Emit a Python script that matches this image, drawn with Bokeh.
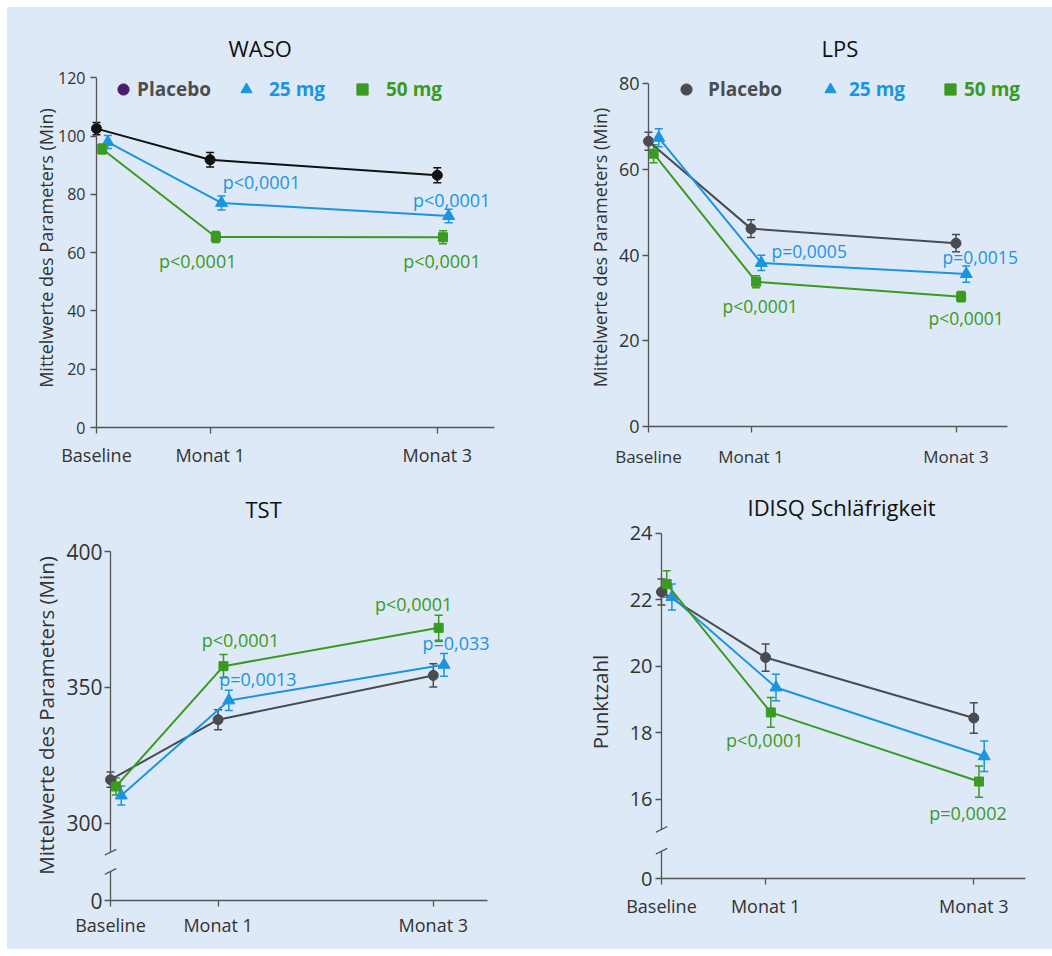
from bokeh.plotting import figure
from bokeh.layouts import row, column
from bokeh.models import (ColumnDataSource, Whisker, TeeHead, FixedTicker, Range1d,
                          Legend, LegendItem)
from bokeh.transform import dodge
from bokeh.core.properties import value
from bokeh.embed import file_html
from bokeh.resources import INLINE

# ---------------- data ----------------
months = [0, 1, 3]
month_labels = ["Baseline", "Monat 1", "Monat 3"]
series_names = ["Placebo", "25 mg", "50 mg"]

waso_placebo = [102.6, 91.9, 86.6]
waso_placebo_err = [2.1, 2.5, 2.6]
waso_25 = [98.0, 77.1, 72.6]
waso_25_err = [2.2, 2.4, 2.3]
waso_50 = [95.6, 65.4, 65.3]
waso_50_err = [1.7, 1.9, 2.2]
waso_p_series = ["25 mg", "25 mg", "50 mg", "50 mg"]
waso_p_month = [1, 3, 1, 3]
waso_p_text = ["p<0,0001", "p<0,0001", "p<0,0001", "p<0,0001"]
waso_yticks = [0, 20, 40, 60, 80, 100, 120]

lps_placebo = [66.6, 46.2, 42.8]
lps_placebo_err = [2.1, 2.1, 2.0]
lps_25 = [67.4, 38.2, 35.6]
lps_25_err = [2.1, 1.8, 1.9]
lps_50 = [63.7, 33.8, 30.3]
lps_50_err = [2.1, 1.4, 1.2]
lps_p_series = ["25 mg", "25 mg", "50 mg", "50 mg"]
lps_p_month = [1, 3, 1, 3]
lps_p_text = ["p=0,0005", "p=0,0015", "p<0,0001", "p<0,0001"]
lps_yticks = [0, 20, 40, 60, 80]

tst_placebo = [316.0, 338.1, 354.4]
tst_placebo_err = [2.8, 3.7, 4.3]
tst_25 = [310.2, 345.2, 358.3]
tst_25_err = [3.5, 3.7, 4.2]
tst_50 = [313.5, 357.8, 371.9]
tst_50_err = [3.1, 4.3, 4.6]
tst_p_series = ["50 mg", "25 mg", "50 mg", "25 mg"]
tst_p_month = [1, 1, 3, 3]
tst_p_text = ["p<0,0001", "p=0,0013", "p<0,0001", "p=0,033"]
tst_yticks = [300, 350, 400]

idisq_placebo = [22.24, 20.27, 18.45]
idisq_placebo_err = [0.39, 0.41, 0.46]
idisq_25 = [22.09, 19.37, 17.3]
idisq_25_err = [0.39, 0.40, 0.46]
idisq_50 = [22.48, 18.62, 16.54]
idisq_50_err = [0.40, 0.45, 0.47]
idisq_p_series = ["50 mg", "50 mg"]
idisq_p_month = [1, 3]
idisq_p_text = ["p<0,0001", "p=0,0002"]
idisq_yticks = [16, 18, 20, 22, 24]

# ---------------- style ----------------
BG = "#dde9f6"
C_BLUE = "#1b95df"
C_GREEN = "#3a9a22"
C_GRAY = "#4a4b50"
C_BLACK = "#111111"
C_PURPLE = "#4b1d6e"
AXIS_C = "#555555"
TEXT_C = "#333333"
FONT = "Open Sans"
TICK = 6          # px between frame edge and the drawn y axis line
X_AXIS_END = 3.5

MARKERS = {"Placebo": ("circle", 10, 0.0), "25 mg": ("triangle", 12, 0.1), "50 mg": ("square", 9, 0.05)}


def base_fig(w, h, borders, ppm, ppu, y0):
    l, r, t, b = borders
    x0 = -TICK / ppm
    x1 = x0 + (w - l - r) / ppm
    y1 = y0 + (h - t - b) / ppu
    p = figure(width=w, height=h, x_range=Range1d(x0, x1), y_range=Range1d(y0, y1),
               output_backend="svg", toolbar_location=None,
               min_border_left=l, min_border_right=r, min_border_top=t, min_border_bottom=b,
               background_fill_color=BG, border_fill_color=BG, outline_line_color=None)
    p.frame_align = False
    p.grid.visible = False
    return p


def style_axes(p, yticks, ylabel, ytick_size, ytick_standoff, ylab_size, ylab_standoff,
               xtick_size, xstandoff, zero_tick=None, brk=None):
    xa = p.xaxis[0]
    xa.bounds = (0, X_AXIS_END)
    xa.ticker = FixedTicker(ticks=months)
    xa.major_label_overrides = {m: lab for m, lab in zip(months, month_labels)}
    xa.major_tick_out = 6
    xa.major_tick_in = 0
    xa.major_label_text_font_size = xtick_size
    xa.major_label_standoff = xstandoff
    xa.axis_line_color = AXIS_C

    ya = p.yaxis[0]
    ticks = list(yticks)
    if zero_tick is not None:
        ticks = [zero_tick] + ticks
        ya.major_label_overrides = {zero_tick: "0"}
    ya.ticker = FixedTicker(ticks=ticks)
    ya.axis_line_color = None
    ya.major_tick_out = 0
    ya.major_tick_in = TICK
    ya.major_label_text_font_size = ytick_size
    ya.major_label_standoff = ytick_standoff
    ya.axis_label = ylabel
    ya.axis_label_text_font = FONT
    ya.axis_label_text_font_style = "normal"
    ya.axis_label_text_font_size = ylab_size
    ya.axis_label_text_color = TEXT_C
    ya.axis_label_standoff = ylab_standoff
    for ax in (xa, ya):
        ax.axis_line_width = 1.3
        ax.major_tick_line_color = AXIS_C
        ax.major_tick_line_width = 1.3
        ax.minor_tick_line_color = None
        ax.major_label_text_font = FONT
        ax.major_label_text_color = TEXT_C

    # the y axis rule itself, drawn at x = 0 (optionally broken)
    y_bottom = p.y_range.start
    y_top = max(yticks)
    if brk is None:
        segs = [(y_bottom, y_top)]
    else:
        segs = [(y_bottom, brk[0]), (brk[1], y_top)]
    p.segment(x0=[0] * len(segs), x1=[0] * len(segs), y0=[s[0] for s in segs], y1=[s[1] for s in segs],
              line_color=AXIS_C, line_width=1.3)
    if brk is not None:
        p.scatter(x=[0, 0], y=list(brk), marker="dash", size=13, angle=0.46,
                  line_color=AXIS_C, line_width=1.3)


def draw_series(p, vals, errs, color, name):
    marker, size, shift = MARKERS[name]
    src = ColumnDataSource(dict(x=months, y=vals,
                                upper=[v + e for v, e in zip(vals, errs)],
                                lower=[v - e for v, e in zip(vals, errs)]))
    xs = dodge("x", shift, range=p.x_range)
    p.line(x=xs, y="y", source=src, line_color=color, line_width=2)
    p.add_layout(Whisker(base=xs, upper="upper", lower="lower", source=src,
                         line_color=color, line_width=1.5,
                         upper_head=TeeHead(size=8, line_color=color, line_width=1.5),
                         lower_head=TeeHead(size=8, line_color=color, line_width=1.5)))
    r = p.scatter(x=xs, y="y", source=src, marker=marker, size=size, fill_color=color, line_color=color)
    return src, r


def draw_pvalues(p, series_vals, p_series, p_month, p_text, offsets, colors, font_size):
    for s in series_names:
        idx = [i for i, ss in enumerate(p_series) if ss == s]
        if not idx:
            continue
        vals = series_vals[s]
        src = ColumnDataSource(dict(
            x=[p_month[i] for i in idx],
            y=[vals[months.index(p_month[i])] for i in idx],
            t=[p_text[i] for i in idx],
            dx=[offsets[i][0] for i in idx],
            dy=[offsets[i][1] for i in idx]))
        p.text(x=dodge("x", MARKERS[s][2], range=p.x_range), y="y", text="t", source=src,
               x_offset="dx", y_offset="dy", text_align="center", text_baseline="middle",
               text_color=colors[s], text_font=value(FONT), text_font_size=font_size)


def add_legend(p, entries):
    # entries: (label, renderer, text colour, vx, vy, standoff)
    for label, r, tcol, vx, vy, so in entries:
        lg = Legend(items=[LegendItem(label=label, renderers=[r])], location=(vx, vy),
                    orientation="horizontal", glyph_width=28, glyph_height=28, label_height=28,
                    label_standoff=so, padding=0, margin=0, spacing=0,
                    background_fill_alpha=0, border_line_color=None,
                    label_text_font=FONT, label_text_font_size="19px",
                    label_text_font_style="bold", label_text_color=tcol)
        p.add_layout(lg)


def set_title(p, text, offset, standoff):
    p.title.text = text
    p.title.align = "left"
    p.title.offset = offset
    p.title.standoff = standoff
    p.title.text_font = FONT
    p.title.text_font_style = "normal"
    p.title.text_font_size = "22px"
    p.title.text_color = "#111111"


def panel_series(p, vals, errs, cols):
    out = {}
    for s in series_names:
        out[s] = draw_series(p, vals[s], errs[s], cols[s], s)
    return out


# ---------------- WASO ----------------
p1 = base_fig(513, 473, (83, 20, 61, 53), 113.6, 2.913, 0)
set_title(p1, "WASO", 138, 12)
style_axes(p1, waso_yticks, "Mittelwerte des Parameters (Min)", "16px", 5, "18px", -3, "18px", 9)
cols1 = {"Placebo": C_BLACK, "25 mg": C_BLUE, "50 mg": C_GREEN}
vals1 = {"Placebo": waso_placebo, "25 mg": waso_25, "50 mg": waso_50}
errs1 = {"Placebo": waso_placebo_err, "25 mg": waso_25_err, "50 mg": waso_50_err}
sr1 = panel_series(p1, vals1, errs1, cols1)
draw_pvalues(p1, vals1, waso_p_series, waso_p_month, waso_p_text,
             [(40, -21), (3, -16), (-18, 24), (-1, 24)], cols1, "18px")
leg_purple = p1.scatter(x=dodge("x", 0, range=p1.x_range), y="y", source=sr1["Placebo"][0],
                        marker="circle", size=0, fill_color=C_PURPLE, line_color=C_PURPLE)
add_legend(p1, [("Placebo", leg_purple, "#4d4d4f", 19, 324, 0),
                ("25 mg", sr1["25 mg"][1], C_BLUE, 142, 324, 9),
                ("50 mg", sr1["50 mg"][1], C_GREEN, 258, 324, 10)])

# ---------------- LPS ----------------
p2 = base_fig(532, 473, (122, 10, 61, 54), 102.5, 4.283, 0)
set_title(p2, "LPS", 179, 12)
style_axes(p2, lps_yticks, "Mittelwerte des Parameters (Min)", "18px", 3, "18px", 4, "17px", 12)
cols2 = {"Placebo": C_GRAY, "25 mg": C_BLUE, "50 mg": C_GREEN}
vals2 = {"Placebo": lps_placebo, "25 mg": lps_25, "50 mg": lps_50}
errs2 = {"Placebo": lps_placebo_err, "25 mg": lps_25_err, "50 mg": lps_50_err}
sr2 = panel_series(p2, vals2, errs2, cols2)
draw_pvalues(p2, vals2, lps_p_series, lps_p_month, lps_p_text,
             [(48, -12), (14, -17), (4, 24), (5, 21)], cols2, "17.5px")
add_legend(p2, [("Placebo", sr2["Placebo"][1], "#4d4d4f", 30, 323, 8),
                ("25 mg", sr2["25 mg"][1], C_BLUE, 174, 323, 5),
                ("50 mg", sr2["50 mg"][1], C_GREEN, 294, 323, 0)])

# ---------------- TST ----------------
TST_ZERO = 271.55
p3 = base_fig(513, 469, (97, 10, 50, 49), 107.6, 2.717, TST_ZERO)
set_title(p3, "TST", 141, 13)
style_axes(p3, tst_yticks, "Mittelwerte des Parameters (Min)", "21px", 2, "20.5px", 3, "18px", 6,
           zero_tick=TST_ZERO, brk=(282.2, 289.3))
vals3 = {"Placebo": tst_placebo, "25 mg": tst_25, "50 mg": tst_50}
errs3 = {"Placebo": tst_placebo_err, "25 mg": tst_25_err, "50 mg": tst_50_err}
panel_series(p3, vals3, errs3, cols2)
draw_pvalues(p3, vals3, tst_p_series, tst_p_month, tst_p_text,
             [(17, -26), (29, -21), (-25, -24), (12, -22)], cols2, "18px")

# ---------------- IDISQ ----------------
IDISQ_ZERO = 13.624
p4 = base_fig(532, 469, (135, 10, 45, 71), 104.1, 33.25, IDISQ_ZERO)
set_title(p4, "IDISQ Schläfrigkeit", 92, 8)
style_axes(p4, idisq_yticks, "Punktzahl", "20px", 3, "20.5px", 13, "18px", 9,
           zero_tick=IDISQ_ZERO, brk=(14.445, 15.10))
vals4 = {"Placebo": idisq_placebo, "25 mg": idisq_25, "50 mg": idisq_50}
errs4 = {"Placebo": idisq_placebo_err, "25 mg": idisq_25_err, "50 mg": idisq_50_err}
panel_series(p4, vals4, errs4, cols2)
draw_pvalues(p4, vals4, idisq_p_series, idisq_p_month, idisq_p_text,
             [(-6, 28), (-11, 31)], cols2, "18px")

layout = column(row(p1, p2, spacing=0), row(p3, p4, spacing=0), spacing=0,
                margin=(7, 0, 0, 7), styles={"background-color": BG})
open("out.html", "w").write(file_html(layout, INLINE))
